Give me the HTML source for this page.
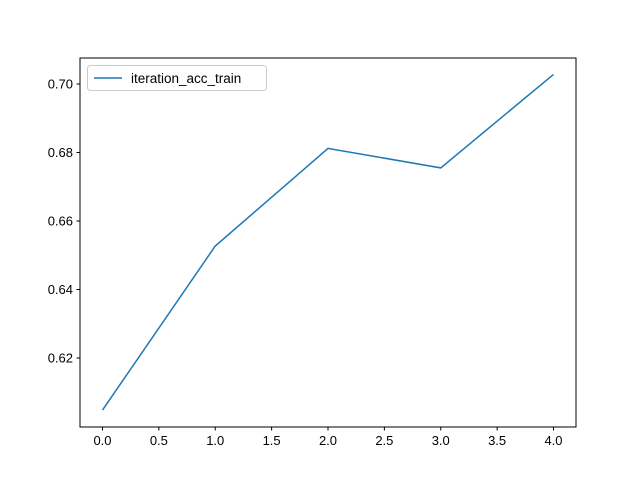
<!DOCTYPE html>
<html><head><meta charset="utf-8"><style>
body{margin:0;background:#fff}
svg{font-family:"Liberation Sans","DejaVu Sans",sans-serif}
</style></head><body>
<svg id="chart" width="640" height="480">
<rect x="80" y="58" width="496" height="369" fill="#fff" stroke="#000" stroke-width="1"/>
<g id="xticks"></g><g id="yticks"></g>
<polyline id="series" fill="none" stroke="#1f77b4" stroke-width="1.5"/>
<g>
<rect x="87.5" y="65.5" width="179" height="25" rx="3" fill="#fff" stroke="#ccc"/>
<line x1="94" y1="78" x2="122" y2="78" stroke="#1f77b4" stroke-width="1.5"/>
<text x="131" y="83" font-size="13.5">iteration_acc_train</text>
</g>
</svg>
<script>
const xValues=[0,1,2,3,4];
const accValues=[0.6048,0.6527,0.6812,0.6755,0.7028];
const xTickLabels=["0.0","0.5","1.0","1.5","2.0","2.5","3.0","3.5","4.0"];
const yTickLabels=["0.62","0.64","0.66","0.68","0.70"];
const xs=v=>102.5+v*112.75;
const ys=v=>358-(v-0.62)*3425;
const NS="http://www.w3.org/2000/svg";
const xt=document.getElementById('xticks'),yt=document.getElementById('yticks');
xTickLabels.forEach(l=>{const x=xs(parseFloat(l));
const ln=document.createElementNS(NS,'line');ln.setAttribute('x1',x);ln.setAttribute('x2',x);ln.setAttribute('y1',427);ln.setAttribute('y2',430.5);ln.setAttribute('stroke','#000');


xt.appendChild(ln);
const t=document.createElementNS(NS,'text');t.setAttribute('x',x);t.setAttribute('y',445);t.setAttribute('text-anchor','middle');t.setAttribute('font-size','13');t.textContent=l;


xt.appendChild(t);});
yTickLabels.forEach(l=>{const y=ys(parseFloat(l));
const ln=document.createElementNS(NS,'line');ln.setAttribute('x1',76.5);ln.setAttribute('x2',80);ln.setAttribute('y1',y);ln.setAttribute('y2',y);ln.setAttribute('stroke','#000');


yt.appendChild(ln);
const t=document.createElementNS(NS,'text');t.setAttribute('x',73);t.setAttribute('y',y+4.5);t.setAttribute('text-anchor','end');t.setAttribute('font-size','13');t.textContent=l;


yt.appendChild(t);});
document.getElementById('series').setAttribute('points',xValues.map((x,i)=>xs(x)+','+ys(accValues[i])).join(' '));
</script>
</body></html>
